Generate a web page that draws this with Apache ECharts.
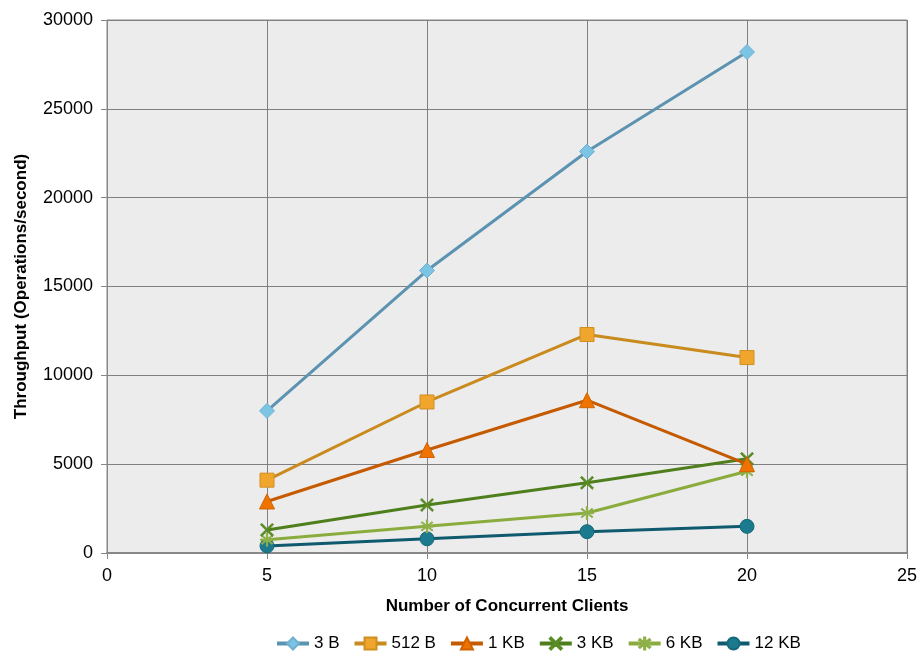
<!DOCTYPE html>
<html>
<head>
<meta charset="utf-8">
<script src="https://cdn.jsdelivr.net/npm/echarts@6/dist/echarts.min.js"></script>
<style>
html,body{margin:0;padding:0;background:#fff;}
#chart{width:922px;height:657px;}
</style>
</head>
<body>
<div id="chart"></div>
<script>
// Concurrent clients on the x axis
const clients = [5, 10, 15, 20];

// Throughput (operations/second) per payload size
const seriesNames = ['3 B', '512 B', '1 KB', '3 KB', '6 KB', '12 KB'];
const tp3B   = [8000, 15900, 22600, 28200];
const tp512B = [4100, 8500, 12300, 11000];
const tp1KB  = [2900, 5800, 8600, 5000];
const tp3KB  = [1300, 2700, 3950, 5300];
const tp6KB  = [750, 1500, 2250, 4600];
const tp12KB = [400, 800, 1200, 1500];

const values = [tp3B, tp512B, tp1KB, tp3KB, tp6KB, tp12KB];

const crossPath = 'path://M2,0 L10,8 L18,0 L20,2 L12,10 L20,18 L18,20 L10,12 L2,20 L0,18 L8,10 L0,2 Z';
const starPath = 'path://M9,0 H11 V8.2 L17.8,2.8 L19.2,4.2 L12.4,9 H20 V11 H12.4 L19.2,15.8 L17.8,17.2 L11,11.8 V20 H9 V11.8 L2.2,17.2 L0.8,15.8 L7.6,11 H0 V9 H7.6 L0.8,4.2 L2.2,2.8 L9,8.2 Z';

const styles = [
  {line: '#5b93b1', fill: '#7cc4e4', border: '#6fb0d0', symbol: 'diamond', size: 15},
  {line: '#c98a1e', fill: '#f0a52c', border: '#d08f20', symbol: 'rect', size: 14},
  {line: '#c55a00', fill: '#ee7300', border: '#d06200', symbol: 'triangle', size: 15},
  {line: '#4e7f1c', fill: '#5a8c25', border: '#5a8c25', symbol: crossPath, size: 13},
  {line: '#8aac3c', fill: '#8fb048', border: '#8fb048', symbol: starPath, size: 13},
  {line: '#0f5a6e', fill: '#1b7a8e', border: '#16687a', symbol: 'circle', size: 14}
];

const series = seriesNames.map((name, i) => ({
  name: name,
  type: 'line',
  data: clients.map((c, j) => [c, values[i][j]]),
  symbol: styles[i].symbol,
  symbolSize: styles[i].size,
  showAllSymbol: true,
  lineStyle: {color: styles[i].line, width: 3},
  itemStyle: {color: styles[i].fill, borderColor: styles[i].border, borderWidth: 1},
  emphasis: {disabled: true},
  z: 10 - i
}));

const chart = echarts.init(document.getElementById('chart'), null, {renderer: 'canvas'});
chart.setOption({
  animation: false,
  backgroundColor: '#ffffff',
  textStyle: {fontFamily: 'Liberation Sans, Arial, sans-serif'},
  grid: {left: 107, right: 15, top: 20, bottom: 104, show: true, backgroundColor: '#ececec', borderColor: '#888', borderWidth: 1},
  xAxis: {
    type: 'value', min: 0, max: 25, interval: 5,
    name: 'Number of Concurrent Clients', nameLocation: 'middle', nameGap: 45,
    nameTextStyle: {fontSize: 17, fontWeight: 'bold', color: '#000'},
    axisLine: {show: true, lineStyle: {color: '#888', width: 2}},
    axisTick: {show: true, length: 6, lineStyle: {color: '#888'}},
    axisLabel: {fontSize: 18, color: '#000', margin: 14},
    splitLine: {show: true, lineStyle: {color: '#808080', width: 1}}
  },
  yAxis: {
    type: 'value', min: 0, max: 30000, interval: 5000,
    name: 'Throughput (Operations/second)', nameLocation: 'middle', nameGap: 77,
    nameTextStyle: {fontSize: 17, fontWeight: 'bold', color: '#000'},
    axisLine: {show: true, lineStyle: {color: '#888', width: 1}},
    axisTick: {show: true, length: 6, lineStyle: {color: '#888'}},
    axisLabel: {fontSize: 18, color: '#000', margin: 14, formatter: v => String(v)},
    splitLine: {show: true, lineStyle: {color: '#808080', width: 1}}
  },
  legend: {
    bottom: 0, left: 270,
    itemWidth: 32, itemHeight: 15, itemGap: 13,
    textStyle: {fontSize: 17, color: '#000'},
    lineStyle: {width: 4},
    data: seriesNames
  },
  series: series
});
</script>
</body>
</html>
